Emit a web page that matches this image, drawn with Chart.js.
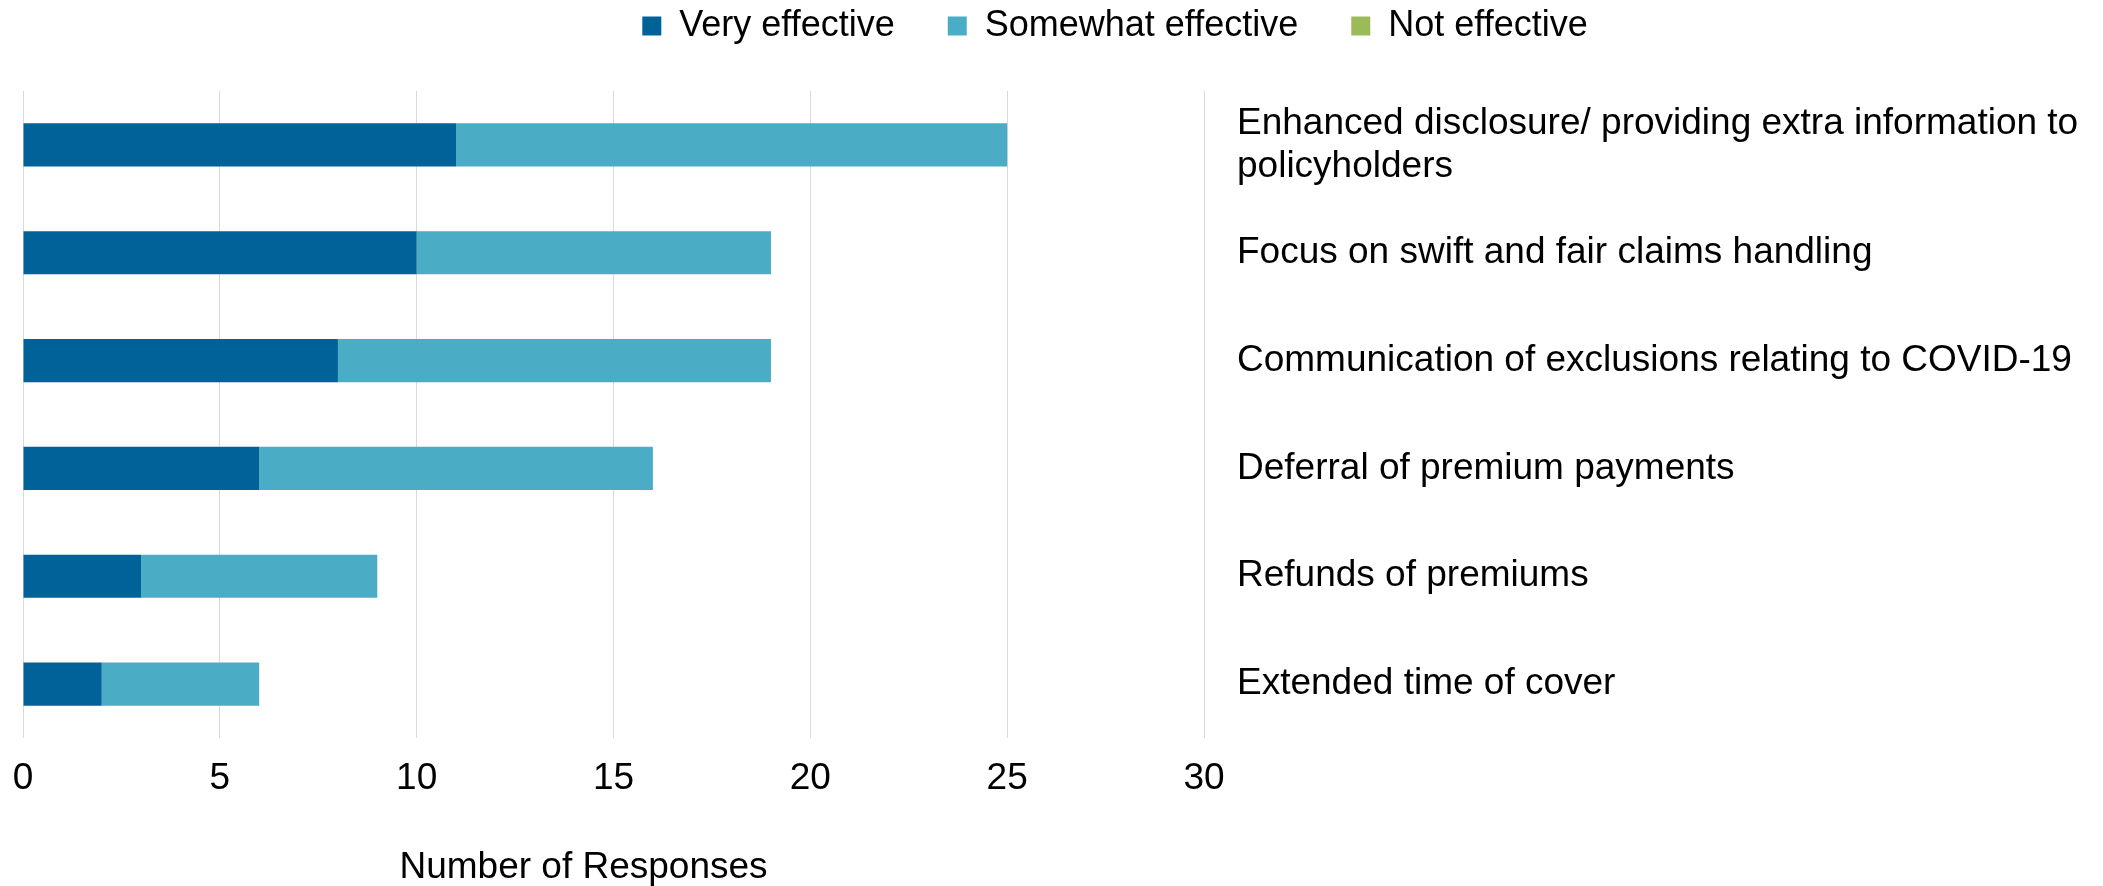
<!DOCTYPE html>
<html>
<head>
<meta charset="utf-8">
<script src="https://cdn.jsdelivr.net/npm/chart.js@4.4.1/dist/chart.umd.min.js"></script>
<style>
  html, body { margin: 0; padding: 0; background: #fff; }
  #wrap { width: 2103px; height: 886px; position: relative; }
</style>
</head>
<body>
<div id="wrap"><canvas id="myChart"></canvas></div>
<script>
// categories, top to bottom
const categories = [
  ['Enhanced disclosure/ providing extra information to', 'policyholders'],
  'Focus on swift and fair claims handling',
  'Communication of exclusions relating to COVID-19',
  'Deferral of premium payments',
  'Refunds of premiums',
  'Extended time of cover'
];
const veryEffective = [11, 10, 8, 6, 3, 2];
const somewhatEffective = [14, 9, 11, 10, 6, 4];
const notEffective = [0, 0, 0, 0, 0, 0];
const xTicks = [0, 5, 10, 15, 20, 25, 30];

const FONT = "'Liberation Sans', Arial, sans-serif";

// move the legend to where it sits in the original
const layoutTweaks = {
  id: 'layoutTweaks',
  afterLayout(chart) {
    const lg = chart.legend;
    lg.left += 52; lg.right += 52;
    lg.top -= 37; lg.bottom -= 37;
  }
};

const ctx = document.getElementById('myChart').getContext('2d');
new Chart(ctx, {
  type: 'bar',
  data: {
    labels: categories,
    datasets: [
      { label: 'Very effective', data: veryEffective, backgroundColor: '#006298' },
      { label: 'Somewhat effective', data: somewhatEffective, backgroundColor: '#4BACC6' },
      { label: 'Not effective', data: notEffective, backgroundColor: '#9BBB59' }
    ]
  },
  options: {
    indexAxis: 'y',
    responsive: true,
    maintainAspectRatio: false,
    animation: false,
    barPercentage: 0.4,
    categoryPercentage: 1,
    layout: { padding: { left: 23, top: -8, right: 0, bottom: 0 } },
    plugins: {
      tooltip: { enabled: false },
      legend: {
        position: 'top',
        labels: {
          color: '#000',
          font: { family: FONT, size: 36 },
          boxWidth: 19,
          boxHeight: 19,
          padding: 53
        }
      }
    },
    scales: {
      x: {
        stacked: true,
        min: 0,
        max: 30,
        afterBuildTicks(scale) { scale.ticks = xTicks.map(v => ({ value: v })); },
        afterFit(scale) {
          scale.height = 148;
          scale.paddingLeft = 0;
          scale.paddingRight = 0;
          // axis title sits a bit left of the plot centre in the original
          if (!scale._shiftedTitle) {
            const base = Object.getPrototypeOf(scale).drawTitle;
            scale.drawTitle = function () {
              this.ctx.save();
              this.ctx.translate(-30, 0);
              base.call(this);
              this.ctx.restore();
            };
            scale._shiftedTitle = true;
          }
        },
        grid: { color: '#D9D9D9', lineWidth: 1, drawTicks: false },
        border: { display: false },
        ticks: { color: '#000', font: { family: FONT, size: 37 }, padding: 19 },
        title: {
          display: true,
          text: 'Number of Responses',
          color: '#000',
          font: { family: FONT, size: 37, lineHeight: 1 },
          padding: 0
        }
      },
      y: {
        stacked: true,
        position: 'right',
        afterFit(scale) { scale.width = 899; },
        grid: { display: false, drawTicks: false },
        border: { display: false },
        ticks: { color: '#000', font: { family: FONT, size: 37, lineHeight: 1.16 }, padding: 33 }
      }
    }
  },
  plugins: [layoutTweaks]
});
</script>
</body>
</html>
